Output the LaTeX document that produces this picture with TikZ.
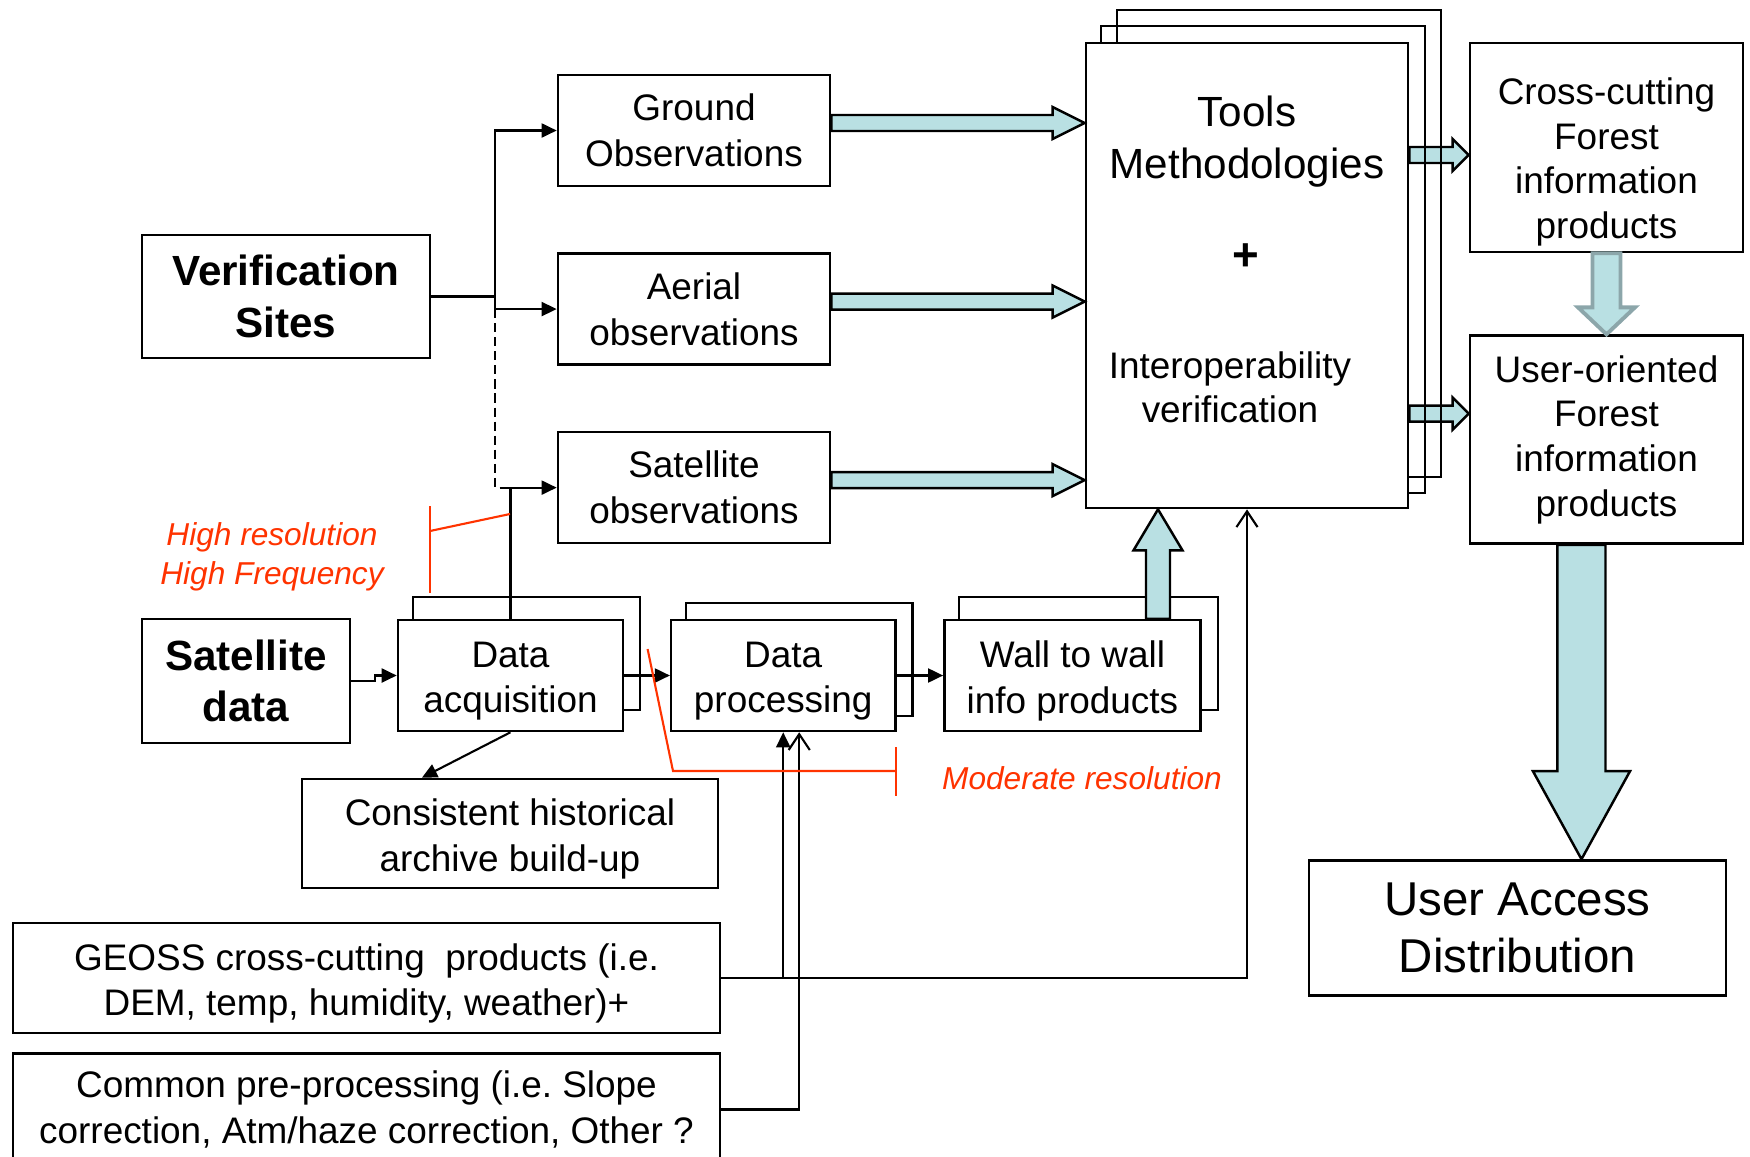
\documentclass[tikz,border=0pt]{standalone}
\usepackage{fontspec}
\setmainfont{Liberation Sans}
\usetikzlibrary{arrows.meta, positioning, calc, backgrounds}

\definecolor{flowblue}{RGB}{185,224,227}
\definecolor{flowedge}{RGB}{140,166,170}
\definecolor{notered}{RGB}{255,51,0}

% block arrow: [style]{from}{to}{half shaft}{half head}{head length}
\newcommand{\fatarrow}[6][flow]{%
  \coordinate (fa-h) at ($(#3)!#6!(#2)$);
  \draw[#1] ($(#2)!#4!90:(#3)$) -- ($(fa-h)!#4!-90:(#2)$) -- ($(fa-h)!#5!-90:(#2)$) -- (#3)
    -- ($(fa-h)!#5!90:(#2)$) -- ($(fa-h)!#4!90:(#2)$) -- ($(#2)!#4!-90:(#3)$) -- cycle;
}

\begin{document}
\frenchspacing
\begin{tikzpicture}[
    x=0.01cm, y=-0.01cm,
    box/.style={draw, fill=white, line width=0.7pt, align=center, inner sep=0pt,
        font=\fontsize{10.5}{13}\selectfont},
    boldbox/.style={box, font=\fontsize{12}{14.6}\selectfont\bfseries},
    obs/.style={box, minimum width=2.72cm, minimum height=1.11cm},
    chain/.style={box, minimum height=1.11cm},
    lowtext/.style={align=center, font=\fontsize{10.5}{13}\selectfont, yshift=-0.055cm},
    conn/.style={line width=0.6pt, -{Triangle[length=4.3pt, width=4pt]}},
    feed/.style={line width=0.6pt, -{Straight Barb[length=4.5pt, width=6pt]}},
    flow/.style={draw=black, fill=flowblue, line width=0.7pt},
    back/.style={draw, line width=0.6pt},
    note/.style={draw=notered, line width=0.6pt},
    notetext/.style={text=notered, align=center, font=\fontsize{9}{11}\selectfont\itshape}
]
    \useasboundingbox (0,0) rectangle (1750,1157);

    % sources
    \node[boldbox, minimum width=2.88cm, minimum height=1.23cm] (ver) at (286,296.5) {Verification\\Sites};
    \node[obs] (ground) at (694,130.5) {Ground\\Observations};
    \node[obs, below=0.65cm of ground] (aerial) {Aerial\\observations};
    \node[obs, below=0.65cm of aerial] (satobs) {Satellite\\observations};

    % tools
    \node[box, minimum width=3.22cm, minimum height=4.65cm] (tools) at (1247,275.5) {};
    \node[align=center, font=\fontsize{12}{14.8}\selectfont] (toolsname) at (1247,142) {Tools\\Methodologies};
    \node[font=\fontsize{13}{13}\selectfont\bfseries] (plus) at (1246,257) {+};
    \node[align=center, font=\fontsize{10.5}{12.4}\selectfont] (interop) at (1230,387) {Interoperability\\verification};

    % products
    \node[box, minimum width=2.73cm, minimum height=2.09cm] (cross) at (1606.5,147.5) {};
    \node[align=center, font=\fontsize{10.5}{12.7}\selectfont] (crosstext) at (1606.5,162) {Cross-cutting\\Forest\\information\\products};
    \node[box, minimum width=2.73cm, minimum height=2.08cm, below=0.81cm of cross, font=\fontsize{10.5}{12.7}\selectfont] (user) {User-oriented\\Forest\\information\\products};
    \node[box, minimum width=4.17cm, minimum height=1.35cm, font=\fontsize{13.5}{16.2}\selectfont] (uad) at (1517.5,928) {User Access\\Distribution};

    % satellite chain
    \node[boldbox, minimum width=2.08cm, minimum height=1.24cm] (satdata) at (246,681) {Satellite\\data};
    \node[chain, minimum width=2.25cm, label={[lowtext]center:{Data\\acquisition}}] (da) at (510.5,675.5) {};
    \node[chain, minimum width=2.24cm, right=0.456cm of da, label={[lowtext]center:{Data\\processing}}] (dp) {};
    \node[chain, minimum width=2.56cm, right=0.466cm of dp, label={[lowtext]center:{Wall to wall\\info products}}] (ww) {};
    \node[box, minimum width=4.16cm, minimum height=1.09cm, label={[lowtext]center:{Consistent historical\\archive build-up}}] (hist) at (510,833.5) {};
    \node[box, minimum width=7.07cm, minimum height=1.1cm, label={[lowtext]center:{GEOSS cross-cutting~ products (i.e.\\DEM, temp, humidity, weather)+}}] (geoss) at (366.5,978) {};
    \node[box, minimum width=7.07cm, minimum height=1.12cm, below=0.18cm of geoss] (common) {Common pre-processing (i.e. Slope\\correction, Atm/haze correction, Other ?};

    % shadows and side arrows of the tools box
    \coordinate (c1) at ([yshift=-0.075cm]cross.west);
    \coordinate (c0) at (tools.east |- c1);
    \coordinate (o1) at ([yshift=0.26cm]user.west);
    \coordinate (o0) at (tools.east |- o1);
    \begin{scope}[on background layer]
        \fatarrow{c0}{c1}{0.08cm}{0.16cm}{0.16cm}
        \fatarrow{o0}{o1}{0.08cm}{0.16cm}{0.16cm}
        \draw[back] ([shift={(0.16cm,0.16cm)}]tools.south west) rectangle ([shift={(0.16cm,0.16cm)}]tools.north east);
        \draw[back] ([shift={(0.32cm,0.32cm)}]tools.south west) rectangle ([shift={(0.32cm,0.32cm)}]tools.north east);
        \draw[back] ([shift={(0.16cm,0.22cm)}]da.south west) rectangle ([shift={(0.16cm,0.22cm)}]da.north east);
        \draw[back] ([shift={(0.16cm,0.16cm)}]dp.south west) rectangle ([shift={(0.16cm,0.16cm)}]dp.north east);
        \draw[back] ([shift={(0.16cm,0.22cm)}]ww.south west) rectangle ([shift={(0.16cm,0.22cm)}]ww.north east);
    \end{scope}

    % observations into tools
    \coordinate (g0) at ([yshift=0.075cm]ground.east);
    \coordinate (g1) at (tools.west |- g0);
    \coordinate (a0) at ([yshift=0.075cm]aerial.east);
    \coordinate (a1) at (tools.west |- a0);
    \coordinate (s0) at ([yshift=0.075cm]satobs.east);
    \coordinate (s1) at (tools.west |- s0);
    \fatarrow{g0}{g1}{0.08cm}{0.16cm}{0.32cm}
    \fatarrow{a0}{a1}{0.08cm}{0.16cm}{0.32cm}
    \fatarrow{s0}{s1}{0.08cm}{0.16cm}{0.32cm}

    \coordinate (w0) at ([xshift=0.855cm]ww.north);
    \coordinate (w1) at (tools.south -| w0);
    \fatarrow{w0}{w1}{0.12cm}{0.245cm}{0.41cm}

    \fatarrow[flow, draw=flowedge, line width=1.1pt]{cross.south}{user.north}{0.14cm}{0.285cm}{0.27cm}

    \coordinate (u0) at ([xshift=-0.25cm]user.south);
    \coordinate (u1) at (u0 |- uad.north);
    \fatarrow{u0}{u1}{0.24cm}{0.485cm}{0.88cm}

    % thin connectors
    \coordinate (split) at ($(ver.east)+(64,0)$);
    \draw[line width=0.6pt] (ver.east) -- (split);
    \draw[conn] (split) |- (ground.west);
    \draw[conn] (split) |- (aerial.west);
    \draw[line width=0.6pt, dash pattern=on 2.6pt off 1.4pt] (split |- aerial.west) |- (da.north |- satobs.west);
    \draw[conn] (da.north) |- (satobs.west);

    \draw[conn] (satdata.east) -- ++(24,0) |- (da.west);
    \draw[conn] (da.east) -- (dp.west);
    \draw[conn] (dp.east) -- (ww.west);
    \draw[conn] (da.south) -- ([xshift=-0.88cm]hist.north);

    \draw[conn] (geoss.east) -| (dp.south);
    \draw[feed] (geoss.east) -| (tools.south);
    \draw[feed] (common.east) -| ([xshift=0.16cm]dp.south);

    % resolution notes
    \draw[note] (430,506) -- (430,593);
    \draw[note] (430,531) -- (510,514);
    \node[notetext] (hires) at (272,557) {High resolution\\High Frequency};
    \draw[note] (647.6,649) -- (673,771) -- (896,771);
    \draw[note] (896,747) -- (896,796);
    \node[notetext] (modres) at (1082,778) {Moderate resolution};
\end{tikzpicture}
\end{document}
